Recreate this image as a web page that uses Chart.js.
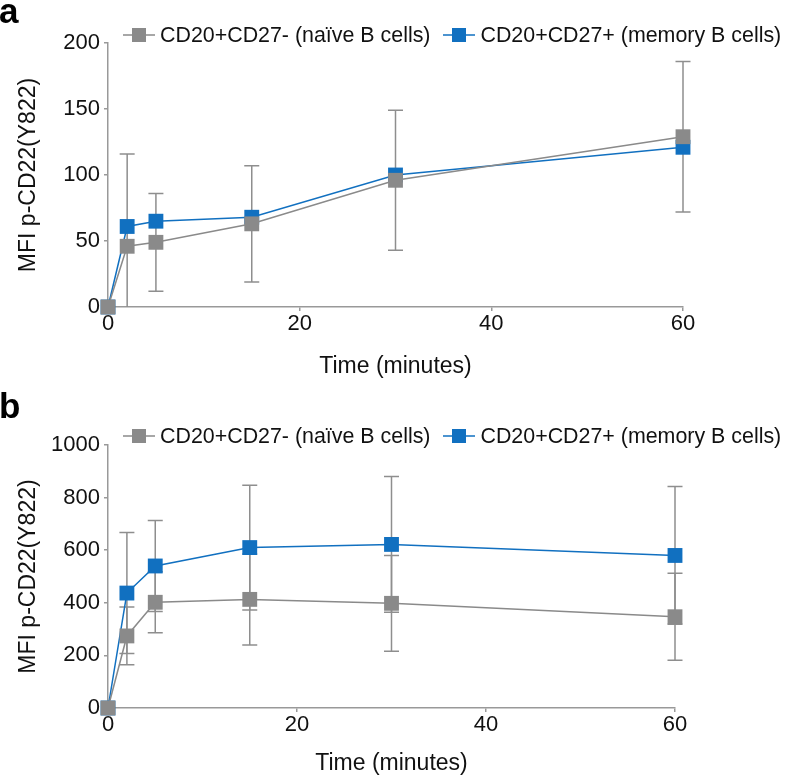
<!DOCTYPE html>
<html>
<head>
<meta charset="utf-8">
<script src="https://cdn.jsdelivr.net/npm/chart.js"></script>
<style>
    body { margin: 0; background: #fff; }
    #page { position: relative; width: 788px; height: 778px; overflow: hidden; font-family: "Liberation Sans", Arial, sans-serif; }
    .panel { position: absolute; left: 0; width: 788px; }
    .panel canvas.plot { position: absolute; left: 0; top: 0; display: block; }
    .tag { position: absolute; left: -1px; font-weight: bold; font-size: 35px; line-height: 35px; color: #000; }
    .legend { position: absolute; left: 123px; top: 23px; display: flex; white-space: nowrap; font-size: 21.4px; line-height: 24px; color: #111; }
    .legend .item { display: flex; align-items: center; margin-right: 13px; }
    .legend canvas { margin-right: 5px; }
</style>
</head>
<body>
<div id="page">
    <div class="panel" style="top:0;height:401px">
        <canvas class="plot" id="chart_a" width="788" height="401"></canvas>
        <div class="legend" id="legend_a"></div>
    </div>
    <div class="panel" style="top:401px;height:377px">
        <canvas class="plot" id="chart_b" width="788" height="377"></canvas>
        <div class="legend" id="legend_b"></div>
    </div>
    <div class="tag" style="top:-7px">a</div>
    <div class="tag" style="top:388px">b</div>
</div>
<script>
// time points (minutes)
const times = [0, 2, 5, 15, 30, 60];
const seriesNames = ["CD20+CD27- (naïve B cells)", "CD20+CD27+ (memory B cells)"];

// panel a
const naiveA = [0, 46, 49, 63, 96, 129];
const naiveSdA = [0, 70, 37, 44, 53, 57];
const memoryA = [0, 61, 65, 68, 100, 121];

// panel b
const naiveB = [0, 274, 402, 413, 398, 347];
const naiveSdB = [0, 110, 116, 173, 182, 165];
const memoryB = [0, 437, 540, 610, 622, 580];
const memorySdB = [0, 230, 173, 237, 258, 262];

const yTicksA = [0, 50, 100, 150, 200];
const yTicksB = [0, 200, 400, 600, 800, 1000];
const xTicks = [0, 20, 40, 60];

const GRAY = "#8a8a8a";
const BLUE = "#1170c0";
const AXIS = "#999999";
const ERR = "#8e8e8e";
const TEXT = "#111111";

Chart.defaults.font.family = '"Liberation Sans", Arial, sans-serif';
Chart.defaults.color = TEXT;

// vertical +/- SD bars, drawn under the lines and markers
const errorBars = {
    id: "errorBars",
    beforeDatasetsDraw(chart) {
        const { ctx } = chart;
        const x = chart.scales.x;
        const y = chart.scales.y;
        ctx.save();
        ctx.strokeStyle = ERR;
        ctx.lineWidth = 1.5;
        chart.data.datasets.forEach((ds) => {
            if (!ds.errors) return;
            ds.data.forEach((p, i) => {
                const sd = ds.errors[i];
                if (!sd) return;
                const px = x.getPixelForValue(p.x);
                const hi = y.getPixelForValue(p.y + sd);
                const lowVal = p.y - sd;
                const lo = y.getPixelForValue(Math.max(lowVal, y.min));
                ctx.beginPath();
                ctx.moveTo(px, hi);
                ctx.lineTo(px, lo);
                ctx.moveTo(px - 7.5, hi);
                ctx.lineTo(px + 7.5, hi);
                if (lowVal > y.min) {
                    ctx.moveTo(px - 7.5, lo);
                    ctx.lineTo(px + 7.5, lo);
                }
                ctx.stroke();
            });
        });
        ctx.restore();
    }
};

function renderLegend(chart, legendId) {
    const box = document.getElementById(legendId);
    chart.data.datasets.forEach((ds) => {
        const item = document.createElement("div");
        item.className = "item";
        const sw = document.createElement("canvas");
        sw.width = 32;
        sw.height = 16;
        const c = sw.getContext("2d");
        c.strokeStyle = ds.borderColor;
        c.lineWidth = 1.5;
        c.beginPath();
        c.moveTo(0, 8);
        c.lineTo(32, 8);
        c.stroke();
        c.fillStyle = ds.pointBackgroundColor;
        c.fillRect(9, 1, 14, 14);
        const span = document.createElement("span");
        span.textContent = ds.label;
        item.appendChild(sw);
        item.appendChild(span);
        box.appendChild(item);
    });
}

function series(label, vals, sds, color) {
    return {
        label,
        data: times.map((t, i) => ({ x: t, y: vals[i] })),
        errors: sds,
        borderColor: color,
        backgroundColor: color,
        pointBackgroundColor: color,
        pointBorderWidth: 0,
        pointStyle: "rect",
        pointRadius: 10.5,
        pointHoverRadius: 10.5,
        borderWidth: 1.5,
        tension: 0,
        clip: false
    };
}

function buildPanel(id, legendId, datasets, yTicks, box) {
    const yStep = yTicks[1] - yTicks[0];
    const chart = new Chart(document.getElementById(id), {
        type: "line",
        data: { datasets },
        options: {
            responsive: false,
            animation: false,
            layout: { padding: { top: box.top, right: box.right, bottom: 0, left: 0 } },
            plugins: { legend: { display: false }, tooltip: { enabled: false } },
            scales: {
                x: {
                    type: "linear",
                    min: xTicks[0],
                    max: xTicks[xTicks.length - 1],
                    ticks: { stepSize: xTicks[1] - xTicks[0], padding: 0, font: { size: 22 }, color: TEXT },
                    grid: { drawOnChartArea: false, drawTicks: true, tickLength: 4, color: AXIS, lineWidth: 1.5 },
                    border: { color: AXIS, width: 1.5 },
                    title: { display: true, text: "Time (minutes)", font: { size: 23 }, color: TEXT, padding: { top: 0, bottom: box.xTitlePad } },
                    afterFit(s) { s.height = box.xHeight; }
                },
                y: {
                    min: yTicks[0],
                    max: yTicks[yTicks.length - 1],
                    ticks: { stepSize: yStep, padding: 4, font: { size: 22 }, color: TEXT, callback: (v) => String(v) },
                    grid: { drawOnChartArea: false, drawTicks: true, tickLength: 4, color: AXIS, lineWidth: 1.5 },
                    border: { color: AXIS, width: 1.5 },
                    title: { display: true, text: "MFI p-CD22(Y822)", font: { size: 23 }, color: TEXT, padding: { top: 15, bottom: 0 } },
                    afterFit(s) { s.width = 108; }
                }
            }
        },
        plugins: [errorBars]
    });
    renderLegend(chart, legendId);
    return chart;
}

buildPanel("chart_a", "legend_a", [
    series(seriesNames[0], naiveA, naiveSdA, GRAY),
    series(seriesNames[1], memoryA, null, BLUE)
], yTicksA, { top: 43, right: 105, xHeight: 94, xTitlePad: 21 });

buildPanel("chart_b", "legend_b", [
    series(seriesNames[0], naiveB, naiveSdB, GRAY),
    series(seriesNames[1], memoryB, memorySdB, BLUE)
], yTicksB, { top: 44, right: 113, xHeight: 70, xTitlePad: 1 });
</script>
</body>
</html>
